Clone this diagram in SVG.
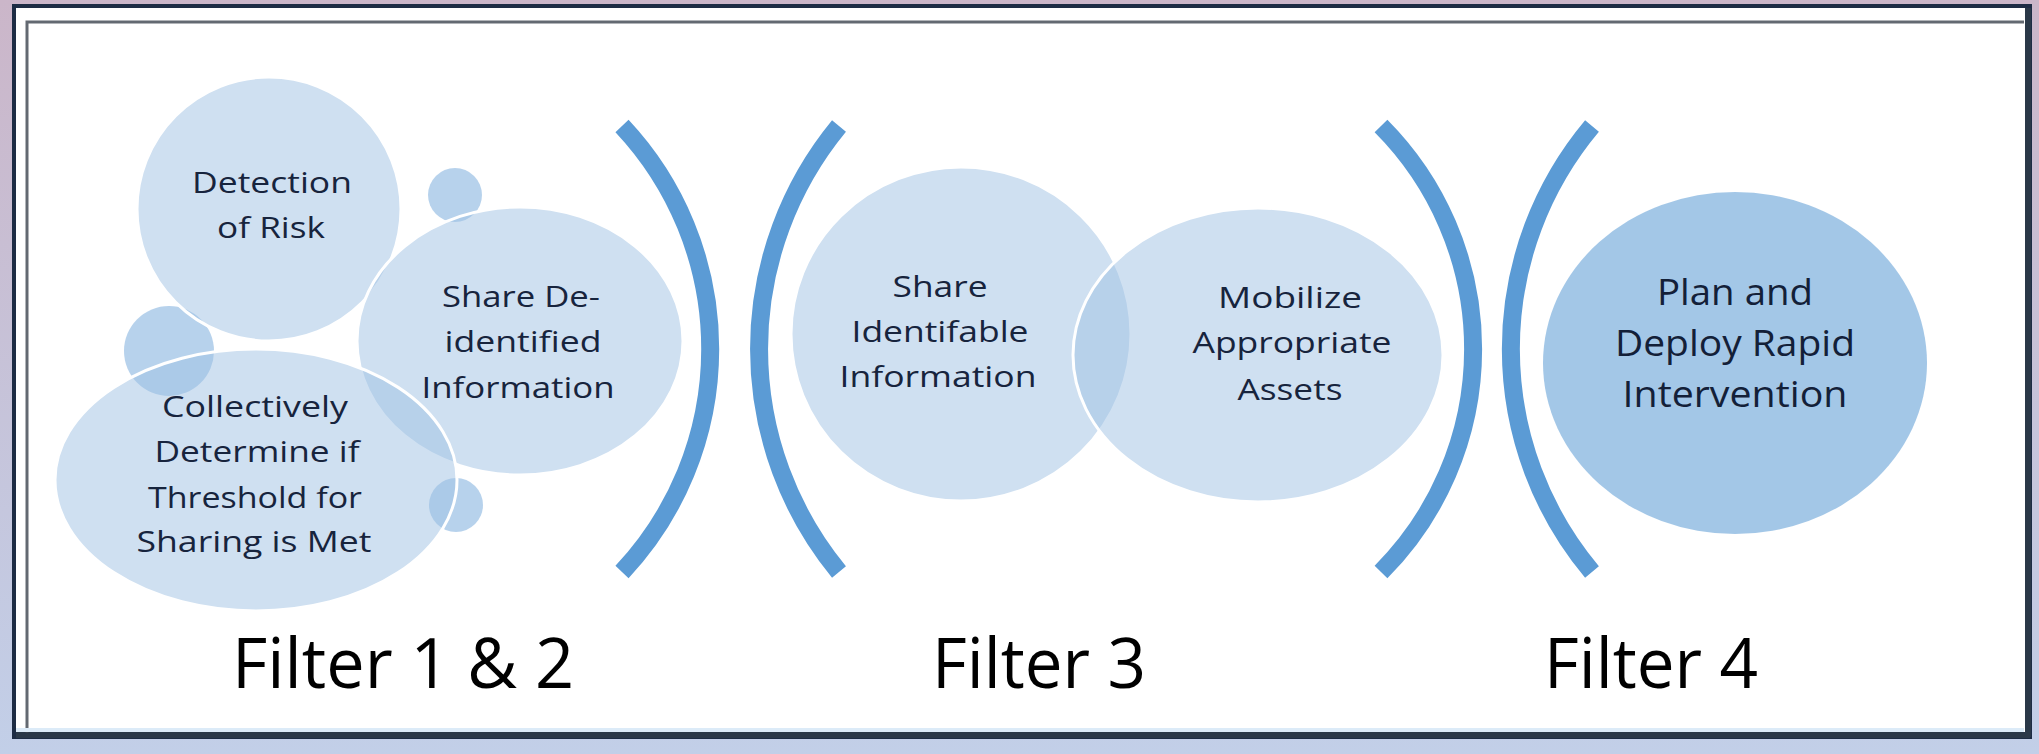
<svg xmlns="http://www.w3.org/2000/svg" width="2039" height="754" viewBox="0 0 2039 754">
<defs>
<linearGradient id="bg" x1="0" y1="0" x2="0" y2="1">
<stop offset="0" stop-color="#cbb6c9"/>
<stop offset="1" stop-color="#c2cfe8"/>
</linearGradient>
<style>
.lt{fill:#9fc1e3;fill-opacity:0.5;stroke:#ffffff;stroke-width:3}
.sm{fill:#6fa6da;fill-opacity:0.5;stroke:none}
.dk{fill:#5b9bd5;fill-opacity:0.56;stroke:none}
.br{fill:none;stroke:#5b9bd5;stroke-width:18;stroke-linecap:butt}
.t{font-family:"Open Sans","Liberation Sans",sans-serif;font-size:29px;font-weight:500;fill:#17243d;text-anchor:middle}
.tb{font-family:"Open Sans","Liberation Sans",sans-serif;font-size:36px;font-weight:500;fill:#132038;text-anchor:middle}
.f{font-family:"Open Sans","Liberation Sans",sans-serif;font-size:70px;fill:#000;text-anchor:middle}
</style>
</defs>
<rect x="0" y="0" width="2039" height="754" fill="url(#bg)"/>
<g id="frame">
<rect x="14" y="6" width="2016" height="731" fill="#ffffff" stroke="#1d2c44" stroke-width="4"/>
<line x1="16" y1="735" x2="2030" y2="735" stroke="#2a3848" stroke-width="6"/>
<line x1="2028" y1="8" x2="2028" y2="737" stroke="#2a3848" stroke-width="6"/>
<polyline points="27,733 27,22 2024,22" fill="none" stroke="#3c444e" stroke-width="3" opacity="0.8"/>
<line x1="16" y1="730" x2="2024" y2="730" stroke="#dcebf8" stroke-width="4"/>
</g>
<g id="small-circles">
<circle id="dot-top" cx="455" cy="195" r="27" class="sm"/>
<circle id="dot-left" cx="169" cy="351" r="45" class="sm"/>
<circle id="dot-bottom" cx="456" cy="505" r="27" class="sm"/>
</g>
<g id="node-detection">
<circle cx="269" cy="209" r="132" class="lt"/>
<text class="t" x="272" y="193" textLength="160" lengthAdjust="spacingAndGlyphs">Detection</text>
<text class="t" x="271" y="238" textLength="108" lengthAdjust="spacingAndGlyphs">of Risk</text>
</g>
<g id="node-share-deidentified">
<ellipse cx="520" cy="341" rx="163" ry="134" class="lt"/>
<text class="t" x="521" y="307" textLength="158" lengthAdjust="spacingAndGlyphs">Share De-</text>
<text class="t" x="523" y="352" textLength="157" lengthAdjust="spacingAndGlyphs">identified</text>
<text class="t" x="518" y="398" textLength="193" lengthAdjust="spacingAndGlyphs">Information</text>
</g>
<g id="node-collectively">
<ellipse cx="256" cy="480" rx="201" ry="131" class="lt"/>
<text class="t" x="255" y="417" textLength="186" lengthAdjust="spacingAndGlyphs">Collectively</text>
<text class="t" x="257" y="462" textLength="205" lengthAdjust="spacingAndGlyphs">Determine if</text>
<text class="t" x="255" y="508" textLength="214" lengthAdjust="spacingAndGlyphs">Threshold for</text>
<text class="t" x="254" y="552" textLength="235" lengthAdjust="spacingAndGlyphs">Sharing is Met</text>
</g>
<g id="node-share-identifiable">
<ellipse cx="961" cy="334" rx="170" ry="167" class="lt"/>
<text class="t" x="940" y="297" textLength="95" lengthAdjust="spacingAndGlyphs">Share</text>
<text class="t" x="940" y="342" textLength="177" lengthAdjust="spacingAndGlyphs">Identifable</text>
<text class="t" x="938" y="387" textLength="197" lengthAdjust="spacingAndGlyphs">Information</text>
</g>
<g id="node-mobilize">
<ellipse cx="1258" cy="355" rx="185" ry="147" class="lt"/>
<text class="t" x="1290" y="308" textLength="144" lengthAdjust="spacingAndGlyphs">Mobilize</text>
<text class="t" x="1292" y="353" textLength="199" lengthAdjust="spacingAndGlyphs">Appropriate</text>
<text class="t" x="1290" y="400" textLength="105" lengthAdjust="spacingAndGlyphs">Assets</text>
</g>
<g id="node-plan">
<ellipse cx="1735" cy="363" rx="192" ry="171" class="dk"/>
<text class="tb" x="1735" y="305" textLength="156" lengthAdjust="spacingAndGlyphs">Plan and</text>
<text class="tb" x="1735" y="356" textLength="240" lengthAdjust="spacingAndGlyphs">Deploy Rapid</text>
<text class="tb" x="1735" y="407" textLength="225" lengthAdjust="spacingAndGlyphs">Intervention</text>
</g>
<g id="connectors">
<path class="br" d="M 622 126 A 326 326 0 0 1 622 572"/>
<path class="br" d="M 839 126 A 351 351 0 0 0 839 572"/>
<path class="br" d="M 1381 126 A 316 316 0 0 1 1381 572"/>
<path class="br" d="M 1592 126 A 347 347 0 0 0 1592 572"/>
</g>
<g id="labels">
<text class="f" x="403" y="688" textLength="342" lengthAdjust="spacingAndGlyphs">Filter 1 &amp; 2</text>
<text class="f" x="1039" y="688" textLength="214" lengthAdjust="spacingAndGlyphs">Filter 3</text>
<text class="f" x="1651" y="688" textLength="214" lengthAdjust="spacingAndGlyphs">Filter 4</text>
</g>
</svg>
